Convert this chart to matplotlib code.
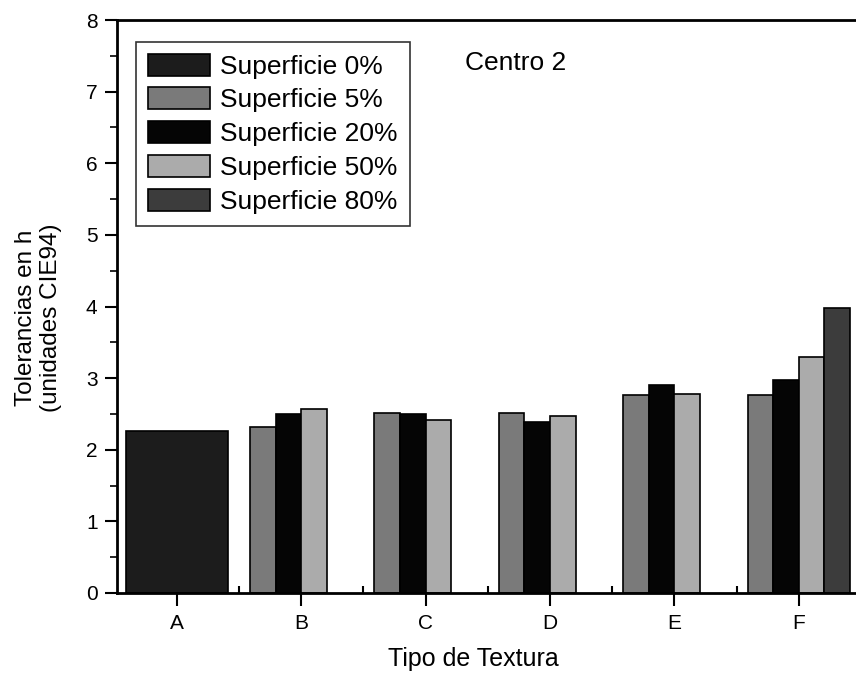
import numpy as np
import matplotlib
matplotlib.use("Agg")
import matplotlib.pyplot as plt
from matplotlib.ticker import MultipleLocator

plt.rcParams['font.family'] = ['Liberation Sans', 'DejaVu Sans']

categories = ['A', 'B', 'C', 'D', 'E', 'F']
series = ['Superficie 0%', 'Superficie 5%', 'Superficie 20%', 'Superficie 50%', 'Superficie 80%']
sup0 = [2.26, 0, 0, 0, 0, 0]
sup5 = [0, 2.32, 2.51, 2.51, 2.76, 2.76]
sup20 = [0, 2.50, 2.50, 2.39, 2.91, 2.97]
sup50 = [0, 2.57, 2.42, 2.47, 2.78, 3.29]
sup80 = [0, 0, 0, 0, 0, 3.98]
colors = ['#1c1c1c', '#7a7a7a', '#050505', '#ababab', '#3c3c3c']

x = np.arange(len(categories))
w = 0.206

fig = plt.figure(figsize=(8.56, 6.79), dpi=100)
ax = fig.add_axes([117/856, 86/679, 1 - 117/856, 573/679])

kw = dict(edgecolor='black', lw=1.2)
# A only has the 0% surface, drawn as one wide bar
ax.bar(x[:1], sup0[:1], width=4*w, color=colors[0], label=series[0], **kw)
ax.bar(x[1:] - 1.5*w, sup5[1:], width=w, color=colors[1], label=series[1], **kw)
ax.bar(x[1:] - 0.5*w, sup20[1:], width=w, color=colors[2], label=series[2], **kw)
ax.bar(x[1:] + 0.5*w, sup50[1:], width=w, color=colors[3], label=series[3], **kw)
ax.bar(x[5:] + 1.5*w, sup80[5:], width=w, color=colors[4], label=series[4], **kw)

ax.set_xlim(-0.482, 5.46)
ax.set_ylim(0, 8)
ax.set_xticks(x)
ax.set_xticklabels(categories)
ax.xaxis.set_minor_locator(MultipleLocator(1, offset=0.5))
ax.yaxis.set_major_locator(MultipleLocator(1))
ax.yaxis.set_minor_locator(MultipleLocator(0.5))
ax.tick_params(axis='x', which='major', direction='out', length=9, width=1.5, labelsize=15, pad=6)
ax.tick_params(axis='x', which='minor', direction='in', length=5, width=1.5)
ax.tick_params(axis='y', which='major', direction='out', length=9, width=1.5, labelsize=15, pad=5)
ax.tick_params(axis='y', which='minor', direction='out', length=5, width=1.2)
for s in ['left', 'bottom', 'top']:
    ax.spines[s].set_linewidth(2)
ax.spines['right'].set_visible(False)

ax.set_xlabel('Tipo de Textura', fontsize=18)
ax.xaxis.set_label_coords(0.482, -0.095)
ax.set_ylabel('Tolerancias en h\n(unidades CIE94)', fontsize=17.5, linespacing=1.15)
ax.yaxis.set_label_coords(-0.0745, 0.48)
ax.text(2.315, 7.30, 'Centro 2', fontsize=19)

leg = ax.legend(loc='upper left', bbox_to_anchor=(0.026, 0.962), fontsize=19,
                frameon=True, fancybox=False, edgecolor='black',
                handlelength=2.35, handleheight=0.9, handletextpad=0.38,
                labelspacing=0.33, borderpad=0.45, borderaxespad=0)
leg.get_frame().set_linewidth(1.2)

fig.savefig('out.png', dpi=100)
